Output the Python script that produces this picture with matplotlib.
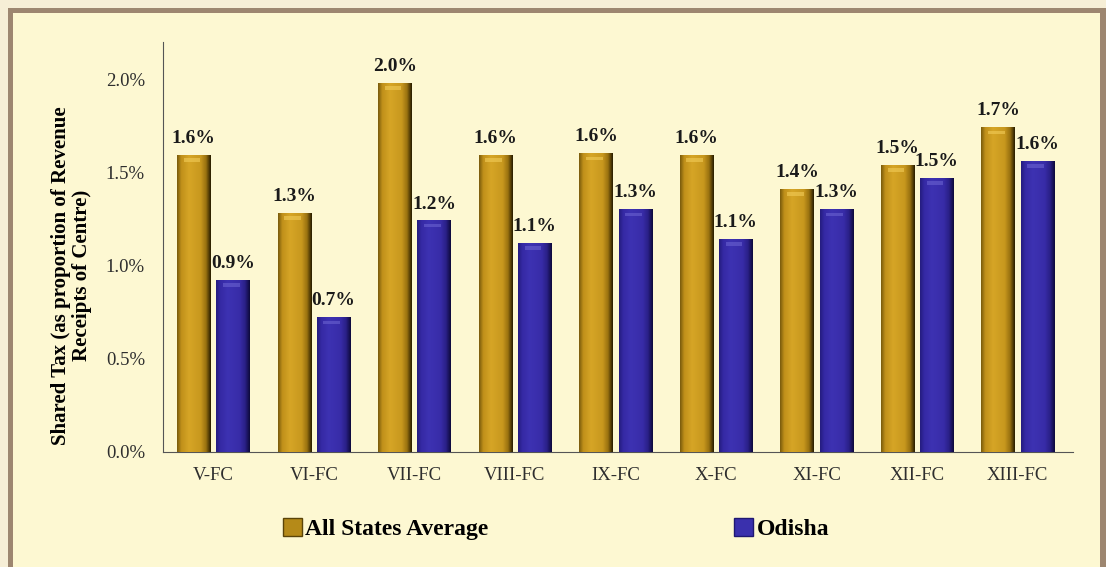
import matplotlib.pyplot as plt
import numpy as np
from matplotlib.patches import Rectangle
from matplotlib.colors import LinearSegmentedColormap
from matplotlib.ticker import FuncFormatter

# Shared tax as share of revenue receipts of the Centre, per Finance Commission
commissions = ["V-FC", "VI-FC", "VII-FC", "VIII-FC", "IX-FC", "X-FC", "XI-FC", "XII-FC", "XIII-FC"]
all_states_avg = [1.59, 1.28, 1.98, 1.59, 1.60, 1.59, 1.41, 1.54, 1.74]
odisha = [0.92, 0.72, 1.24, 1.12, 1.30, 1.14, 1.30, 1.47, 1.56]
series_names = ["All States Average", "Odisha"]

SERIF = ["Liberation Serif", "DejaVu Serif"]
OUTER_BG = "#f6eed6"
INNER_BG = "#fdf8d2"
FRAME = "#9d8670"

gold_cmap = LinearSegmentedColormap.from_list(
    "gold", [(0.0, "#7a5c0c"), (0.12, "#c0901a"), (0.35, "#d6a526"),
             (0.7, "#c8981e"), (0.86, "#9a7210"), (1.0, "#2a1e00")])
blue_cmap = LinearSegmentedColormap.from_list(
    "blue", [(0.0, "#251d80"), (0.12, "#3529a4"), (0.35, "#3d32b2"),
             (0.7, "#382ca8"), (0.86, "#2a2088"), (1.0, "#0e0a3c")])


def shade_bars(ax, bars, cmap, top_color):
    # horizontal gradient over each bar to give it a rounded look
    grad = np.linspace(0, 1, 64).reshape(1, -1)
    for b in bars:
        x0, w, h = b.get_x(), b.get_width(), b.get_height()
        ax.imshow(grad, cmap=cmap, aspect="auto", extent=(x0, x0 + w, 0, h),
                  zorder=3, interpolation="bilinear")
        ax.add_patch(Rectangle((x0 + w * 0.2, h - 0.035), w * 0.5, 0.02,
                               color=top_color, alpha=0.6, zorder=4, lw=0))


fig = plt.figure(figsize=(11.06, 5.67), dpi=100, facecolor=OUTER_BG)

# brown frame and cream panel
fig.patches.append(Rectangle((8 / 1106, 0), 1098 / 1106, 1 - 8 / 567,
                             transform=fig.transFigure, facecolor=FRAME,
                             edgecolor="none", zorder=-2))
fig.patches.append(Rectangle((13 / 1106, 0), 1087 / 1106, 1 - 13 / 567,
                             transform=fig.transFigure, facecolor=INNER_BG,
                             edgecolor="none", zorder=-1))

ax = fig.add_axes([163 / 1106, 1 - 452 / 567, 910 / 1106, 410 / 567])
ax.set_facecolor("none")
ax.set_zorder(2)

x = np.arange(len(commissions))
width = 0.33
offset = 0.195

gold_bars = ax.bar(x - offset, all_states_avg, width, color="#c9951c", zorder=2)
blue_bars = ax.bar(x + offset, odisha, width, color="#3a30ad", zorder=2)
shade_bars(ax, gold_bars, gold_cmap, "#f2cc58")
shade_bars(ax, blue_bars, blue_cmap, "#6a62d0")

for bars, vals in ((gold_bars, all_states_avg), (blue_bars, odisha)):
    for b, v in zip(bars, vals):
        ax.text(b.get_x() + b.get_width() / 2, v + 0.045, f"{v:.1f}%",
                ha="center", va="bottom", fontsize=14, fontweight="bold",
                family=SERIF, color="#1a1a1a", zorder=5)

ax.set_xlim(-0.5, len(commissions) - 0.45)
ax.set_ylim(0, 2.2)
ax.set_yticks([0, 0.5, 1.0, 1.5, 2.0])
ax.yaxis.set_major_formatter(FuncFormatter(lambda v, _: f"{v:.1f}%"))
ax.set_xticks(x)
ax.set_xticklabels(commissions)
for lbl in ax.get_xticklabels() + ax.get_yticklabels():
    lbl.set_family(SERIF)
    lbl.set_fontsize(13.5)
    lbl.set_color("#2e2e2e")
ax.tick_params(length=0, pad=11)
ax.tick_params(axis="y", pad=13)

for side in ("top", "right"):
    ax.spines[side].set_visible(False)
ax.spines["left"].set_color("#555555")
ax.spines["bottom"].set_color("#555555")

ax.set_ylabel("Shared Tax (as proportion of Revenue\nReceipts of Centre)",
              fontsize=15, fontweight="bold", family=SERIF, linespacing=1.05)
ax.yaxis.set_label_coords(-0.078, 0.43)

handles = [Rectangle((0, 0), 1, 1, facecolor="#b58a18", edgecolor="#5a4408"),
           Rectangle((0, 0), 1, 1, facecolor="#3a30ad", edgecolor="#1f1872")]
fig.legend(handles, series_names, loc="center", bbox_to_anchor=(556 / 1106, 1 - 529 / 567),
           ncol=2, frameon=False, columnspacing=10.4, handlelength=0.8,
           handleheight=0.8, handletextpad=0.15,
           prop={"family": SERIF, "weight": "bold", "size": 17})

fig.savefig("out.png", dpi=100, facecolor=fig.get_facecolor())
